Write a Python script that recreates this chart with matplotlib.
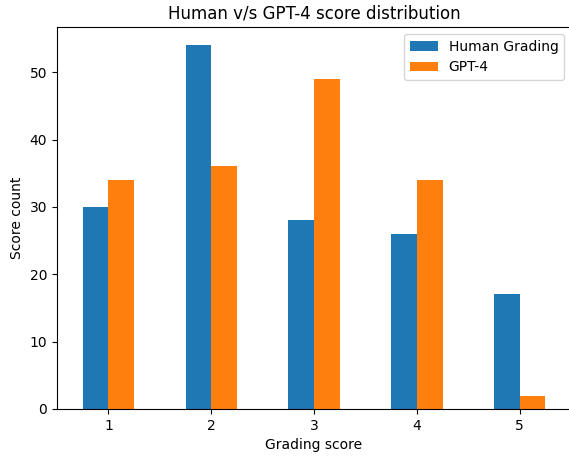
import numpy as np
import matplotlib
matplotlib.use("Agg")
import matplotlib.pyplot as plt

# Grading score distribution
scores = [1, 2, 3, 4, 5]
human_counts = [30, 54, 28, 26, 17]
gpt4_counts = [34, 36, 49, 34, 2]

W, H = 569, 457
fig = plt.figure(figsize=(W / 100, H / 100), dpi=100)
# axes run slightly past the right edge, like the (cropped) reference
ax = fig.add_axes([57 / W, 48 / H, (571 - 57) / W, (409 - 27) / H])
ax.spines["right"].set_visible(False)  # cut off in the reference

x = np.array(scores)
width = 0.25
ax.bar(x - width / 2, human_counts, width, color="#1f77b4", label="Human Grading")
ax.bar(x + width / 2, gpt4_counts, width, color="#ff7f0e", label="GPT-4")

ax.set_xlim(0.5, 5.5)
ax.set_ylim(0, 56.7)
ax.set_xticks(scores)
ax.set_xlabel("Grading score")
ax.set_ylabel("Score count")
ax.set_title("Human v/s GPT-4 score distribution")
ax.legend(loc="upper right")

fig.savefig("out.png", dpi=100)
